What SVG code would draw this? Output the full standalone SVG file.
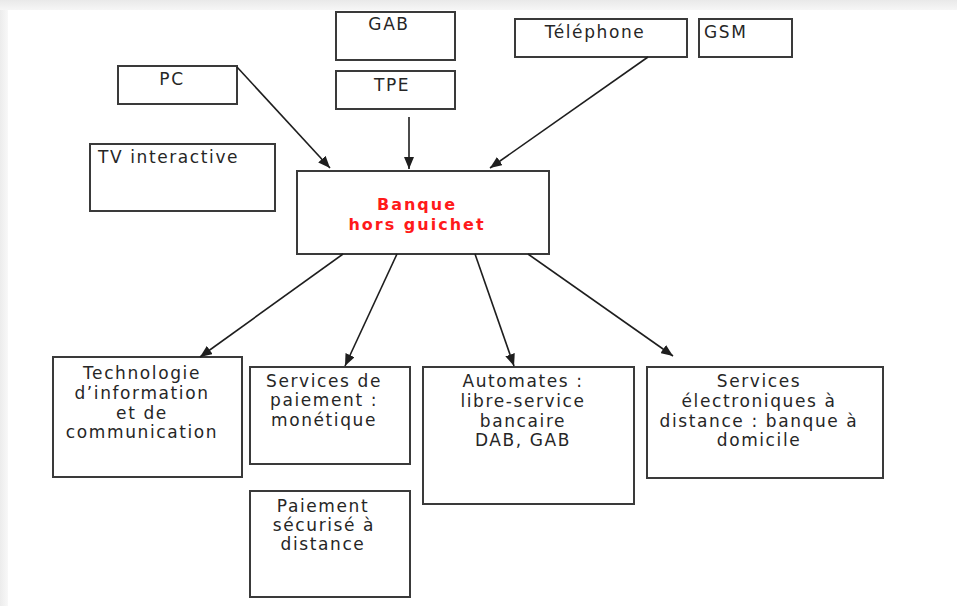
<svg xmlns="http://www.w3.org/2000/svg" width="957" height="606" viewBox="0 0 957 606">
  <defs>
    <linearGradient id="topShade" x1="0" y1="0" x2="0" y2="1">
      <stop offset="0" stop-color="#e9e9e9"/>
      <stop offset="1" stop-color="#f6f6f6"/>
    </linearGradient>
    <linearGradient id="leftShade" x1="0" y1="0" x2="1" y2="0">
      <stop offset="0" stop-color="#ececec"/>
      <stop offset="1" stop-color="#f8f8f8"/>
    </linearGradient>
    <marker id="arrow" viewBox="0 0 12 10" refX="12" refY="5" markerWidth="12" markerHeight="10" markerUnits="userSpaceOnUse" orient="auto">
      <path d="M0,0 L12,5 L0,10 Z" fill="#1e1e1e"/>
    </marker>
  </defs>
  <style>
    .box { fill: #ffffff; stroke: #3a3a3a; stroke-width: 2; }
    .lbl { font-family: "DejaVu Sans", "Liberation Sans", sans-serif; font-size: 17px; fill: #262626; letter-spacing: 1.6px; }
    .mid { text-anchor: middle; }
    .title { font-family: "DejaVu Sans", "Liberation Sans", sans-serif; font-size: 16px; font-weight: bold; fill: #ff1a1a; letter-spacing: 2px; text-anchor: middle; }
    .link { stroke: #1e1e1e; stroke-width: 1.6; fill: none; marker-end: url(#arrow); }
  </style>

  <!-- page background with soft edge -->
  <rect x="0" y="0" width="957" height="606" fill="#ffffff"/>
  <rect x="0" y="0" width="957" height="10" fill="url(#topShade)"/>
  <rect x="0" y="10" width="8" height="596" fill="url(#leftShade)"/>

  <!-- access channels -->
  <g id="gab">
    <rect class="box" x="336" y="12" width="119" height="48"/>
    <text class="lbl mid" x="389" y="30">GAB</text>
  </g>
  <g id="tpe">
    <rect class="box" x="336" y="71" width="119" height="38"/>
    <text class="lbl mid" x="392" y="91">TPE</text>
  </g>
  <g id="telephone">
    <rect class="box" x="515" y="19" width="172" height="38"/>
    <text class="lbl mid" x="595" y="38">Téléphone</text>
  </g>
  <g id="gsm">
    <rect class="box" x="699" y="19" width="93" height="38"/>
    <text class="lbl" x="704" y="38">GSM</text>
  </g>
  <g id="pc">
    <rect class="box" x="118" y="66" width="119" height="38"/>
    <text class="lbl mid" x="172" y="85">PC</text>
  </g>
  <g id="tv">
    <rect class="box" x="90" y="144" width="185" height="67"/>
    <text class="lbl" x="98" y="163">TV interactive</text>
  </g>

  <!-- central node -->
  <g id="banque">
    <rect class="box" x="297" y="171" width="252" height="83"/>
    <text class="title" x="417" y="210">Banque</text>
    <text class="title" x="417" y="230">hors guichet</text>
  </g>

  <!-- services -->
  <g id="technologie">
    <rect class="box" x="53" y="357" width="189" height="120"/>
    <text class="lbl mid" x="142" y="379">Technologie</text>
    <text class="lbl mid" x="142" y="399">d’information</text>
    <text class="lbl mid" x="142" y="419">et de</text>
    <text class="lbl mid" x="142" y="438">communication</text>
  </g>
  <g id="paiement">
    <rect class="box" x="250" y="367" width="160" height="97"/>
    <text class="lbl mid" x="324" y="387">Services de</text>
    <text class="lbl mid" x="324" y="406">paiement :</text>
    <text class="lbl mid" x="324" y="426">monétique</text>
  </g>
  <g id="automates">
    <rect class="box" x="423" y="367" width="211" height="137"/>
    <text class="lbl mid" x="523" y="387">Automates :</text>
    <text class="lbl mid" x="523" y="407">libre-service</text>
    <text class="lbl mid" x="523" y="427">bancaire</text>
    <text class="lbl mid" x="523" y="446">DAB, GAB</text>
  </g>
  <g id="services-electroniques">
    <rect class="box" x="647" y="367" width="236" height="111"/>
    <text class="lbl mid" x="759" y="387">Services</text>
    <text class="lbl mid" x="759" y="407">électroniques à</text>
    <text class="lbl mid" x="759" y="427">distance : banque à</text>
    <text class="lbl mid" x="759" y="446">domicile</text>
  </g>
  <g id="paiement-securise">
    <rect class="box" x="250" y="491" width="160" height="106"/>
    <text class="lbl mid" x="323" y="512">Paiement</text>
    <text class="lbl mid" x="324" y="531">sécurisé à</text>
    <text class="lbl mid" x="323" y="550">distance</text>
  </g>

  <!-- connectors -->
  <g id="connectors">
    <line class="link" x1="237" y1="67" x2="330" y2="168"/>
    <line class="link" x1="409" y1="117" x2="409" y2="169"/>
    <line class="link" x1="648" y1="57" x2="490" y2="168"/>
    <line class="link" x1="343" y1="254" x2="200" y2="357"/>
    <line class="link" x1="397" y1="254" x2="345" y2="366"/>
    <line class="link" x1="475" y1="254" x2="514" y2="366"/>
    <line class="link" x1="528" y1="254" x2="673" y2="356"/>
  </g>
</svg>
